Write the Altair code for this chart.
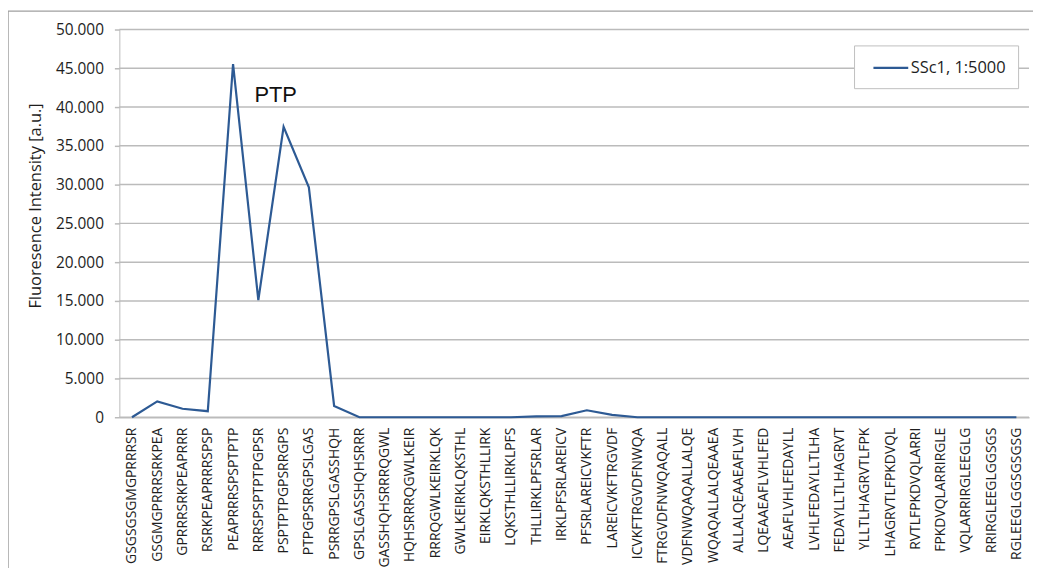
import altair as alt
import pandas as pd

peptides = [
    "GSGSGSGMGPRRRSR", "GSGMGPRRRSRKPEA", "GPRRRSRKPEAPRRR", "RSRKPEAPRRRSPSP",
    "PEAPRRRSPSPTPTP", "RRRSPSPTPTPGPSR", "PSPTPTPGPSRRGPS", "PTPGPSRRGPSLGAS",
    "PSRRGPSLGASSHQH", "GPSLGASSHQHSRRR", "GASSHQHSRRRQGWL", "HQHSRRRQGWLKEIR",
    "RRRQGWLKEIRKLQK", "GWLKEIRKLQKSTHL", "EIRKLQKSTHLLIRK", "LQKSTHLLIRKLPFS",
    "THLLIRKLPFSRLAR", "IRKLPFSRLAREICV", "PFSRLAREICVKFTR", "LAREICVKFTRGVDF",
    "ICVKFTRGVDFNWQA", "FTRGVDFNWQAQALL", "VDFNWQAQALLALQE", "WQAQALLALQEAAEA",
    "ALLALQEAAEAFLVH", "LQEAAEAFLVHLFED", "AEAFLVHLFEDAYLL", "LVHLFEDAYLLTLHA",
    "FEDAYLLTLHAGRVT", "YLLTLHAGRVTLFPK", "LHAGRVTLFPKDVQL", "RVTLFPKDVQLARRI",
    "FPKDVQLARRIRGLE", "VQLARRIRGLEEGLG", "RRIRGLEEGLGGSGS", "RGLEEGLGGSGSGSG",
]
values = [
    0, 2050, 1100, 780, 45550, 15100, 37450, 29650,
    1450, 0, 0, 0, 0, 0, 0, 0,
    120, 150, 900, 300, 0, 0, 0, 0,
    0, 0, 0, 0, 0, 0, 0, 0,
    0, 0, 0, 0,
]
series_name = "SSc1, 1:5000"
y_ticks = [0, 5000, 10000, 15000, 20000, 25000, 30000, 35000, 40000, 45000, 50000]
annotation = ["PTP"]

df = pd.DataFrame({"peptide": peptides, "value": values, "series": series_name})
ann_df = pd.DataFrame({"peptide": ["PSPTPTPGPSRRGPS"], "value": [41500], "text": annotation})
grid_df = pd.DataFrame({"value": y_ticks})

FONT = "Open Sans"
GRID = "#BBBBBB"
TXT = "#1E1E1E"

x_enc = alt.X(
    "peptide:N", sort=peptides, title=None,
    scale=alt.Scale(paddingInner=0, paddingOuter=0.5),
    axis=alt.Axis(labelAngle=-90, labelFont=FONT, labelFontSize=14, labelColor=TXT,
                  ticks=False, labelPadding=10, domainColor=GRID, domainWidth=1.5, grid=False,
                  labelBaseline="middle", labelAlign="right", labelOverlap=False),
)
y_enc = alt.Y(
    "value:Q", title="Fluoresence Intensity [a.u.]",
    scale=alt.Scale(domain=[0, 50000], nice=False),
    axis=alt.Axis(values=y_ticks, labelExpr="replace(format(datum.value, ','), ',', '.')",
                  labelFont=FONT, labelFontSize=15.5, labelColor=TXT, labelOverlap=False,
                  grid=False, tickSize=5, tickColor=GRID, tickWidth=1.5, domainColor=GRID,
                  labelPadding=11, titleFont=FONT, titleFontSize=16.5, titleFontWeight="normal",
                  titleColor=TXT, titleY=177, titlePadding=12),
)

gridlines = alt.Chart(grid_df).mark_rule(color=GRID, strokeWidth=1.5, opacity=1).encode(
    y=y_enc, x=alt.value(0), x2=alt.value(915))

line = alt.Chart(df).mark_line(strokeWidth=2.2).encode(
    x=x_enc, y=y_enc,
    color=alt.Color("series:N", scale=alt.Scale(range=["#2D5A94"]),
                    legend=alt.Legend(title=None, orient="none", legendX=739, legendY=16,
                                      padding=12, strokeColor="#BFBFBF", fillColor="white",
                                      labelFont=FONT, labelFontSize=16.5, labelColor=TXT,
                                      symbolType="M-0.333,0H3.556", symbolSize=324,
                                      symbolStrokeWidth=2.2, labelOffset=24)),
)

text = alt.Chart(ann_df).mark_text(font="Liberation Sans", fontSize=22, color="#111111",
                                   dx=-8, baseline="middle", align="center").encode(
    x=x_enc, y=y_enc, text="text:N")

border = alt.Chart(alt.Data(values=[{"a": 1}])).mark_rect(
    fillOpacity=0, stroke="#A0A0A0", strokeWidth=1.5).encode(
    x=alt.value(-112), x2=alt.value(1200), y=alt.value(-18.5), y2=alt.value(900))

chart = alt.layer(border, gridlines, line, text).properties(
    width=915, height=390,
    autosize=alt.AutoSizeParams(type="none"),
    padding={"left": 112, "top": 20, "right": 4, "bottom": 150},
    background="white",
).configure_view(stroke=None)

chart.save("out.html", embed_options={"renderer": "svg", "actions": False})
